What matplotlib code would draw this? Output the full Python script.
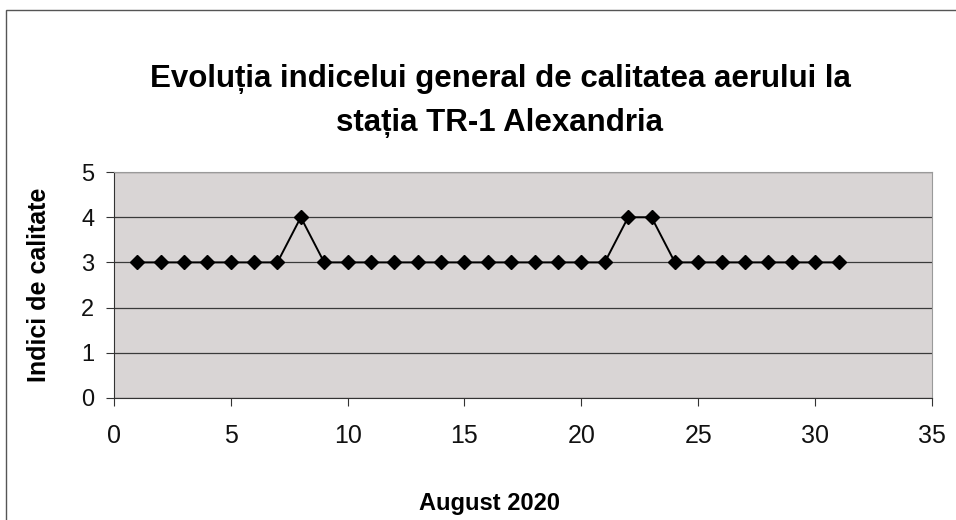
import matplotlib.pyplot as plt
from matplotlib.patches import Rectangle

plt.rcParams['font.family'] = ['Liberation Sans', 'DejaVu Sans']

# August 2020 daily air-quality index, station TR-1 Alexandria
days = list(range(1, 32))
index_values = [3, 3, 3, 3, 3, 3, 3, 4, 3, 3,
                3, 3, 3, 3, 3, 3, 3, 3, 3, 3,
                3, 4, 4, 3, 3, 3, 3, 3, 3, 3, 3]
x_ticks = [0, 5, 10, 15, 20, 25, 30, 35]
y_ticks = [0, 1, 2, 3, 4, 5]

fig = plt.figure(figsize=(9.56, 5.2), dpi=100)
fig.patch.set_facecolor("white")
# chart area frame
fig.add_artist(Rectangle((0.006, -0.05), 1.1, 1.03, transform=fig.transFigure,
                         fill=False, edgecolor="#555555", linewidth=1.0))

ax = fig.add_axes([0.119, 0.235, 0.856, 0.434])
ax.set_facecolor("#d9d5d5")
ax.plot(days, index_values, "-", color="black", linewidth=1.4,
        marker="D", markersize=7.5, markerfacecolor="black", markeredgecolor="black")

ax.set_xlim(0, 35)
ax.set_ylim(0, 5)
ax.set_xticks(x_ticks)
ax.set_yticks(y_ticks)
ax.tick_params(axis="both", direction="out", length=6, width=0.8,
               colors="#333333", labelcolor="#111111")
ax.tick_params(axis="x", labelsize=18, pad=13)
ax.tick_params(axis="y", labelsize=17, pad=8)
ax.grid(True, axis="y", color="#3a3a3a", linewidth=0.9)
ax.set_axisbelow(True)
for side in ("left", "bottom"):
    ax.spines[side].set_color("#333333")
for side in ("top", "right"):
    ax.spines[side].set_color("#9a9a9a")

ax.set_ylabel("Indici de calitate", fontsize=18, fontweight="bold", labelpad=22)
fig.text(0.512, 0.032, "August 2020", ha="center", va="center",
         fontsize=17, fontweight="bold")
fig.text(0.523, 0.806, "Evoluția indicelui general de calitatea aerului la\nstația TR-1 Alexandria",
         ha="center", va="center", fontsize=22.5, fontweight="bold", linespacing=1.6)

fig.savefig("out.png", dpi=100)
